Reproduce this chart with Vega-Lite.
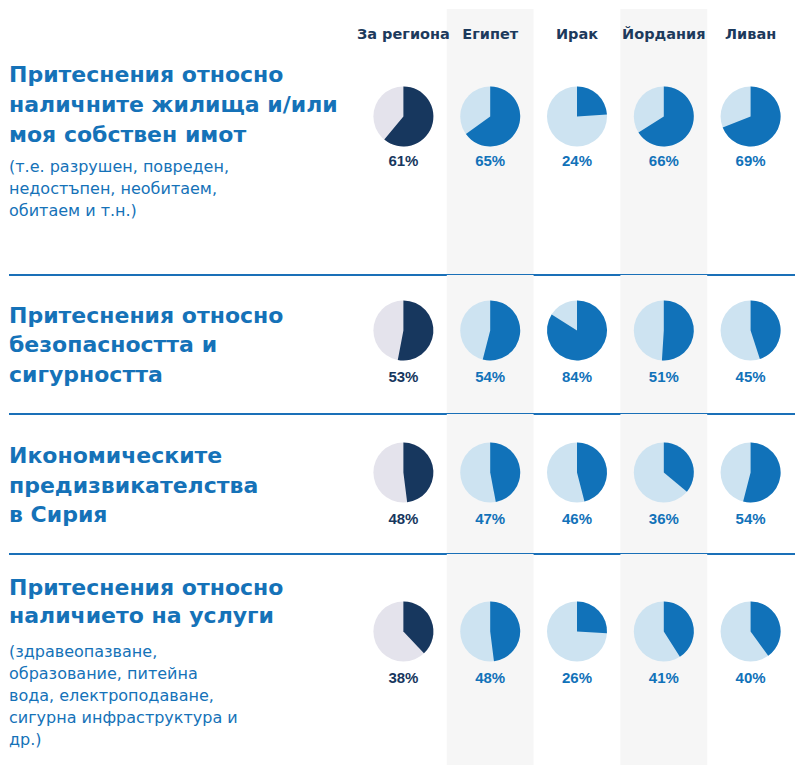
{
  "$schema": "https://vega.github.io/schema/vega-lite/v6.json",
  "padding": {"left": 8, "top": 9, "right": 0, "bottom": 0},
  "spacing": 0,
  "bounds": "flush",
  "background": "white",
  "config": {"view": {"stroke": null}, "concat": {"spacing": 0}},
  "datasets": {
    "pies": [
      {"q": "q1", "col": "За региона", "value": 61},
      {"q": "q1", "col": "Египет", "value": 65},
      {"q": "q1", "col": "Ирак", "value": 24},
      {"q": "q1", "col": "Йордания", "value": 66},
      {"q": "q1", "col": "Ливан", "value": 69},
      {"q": "q2", "col": "За региона", "value": 53},
      {"q": "q2", "col": "Египет", "value": 54},
      {"q": "q2", "col": "Ирак", "value": 84},
      {"q": "q2", "col": "Йордания", "value": 51},
      {"q": "q2", "col": "Ливан", "value": 45},
      {"q": "q3", "col": "За региона", "value": 48},
      {"q": "q3", "col": "Египет", "value": 47},
      {"q": "q3", "col": "Ирак", "value": 46},
      {"q": "q3", "col": "Йордания", "value": 36},
      {"q": "q3", "col": "Ливан", "value": 54},
      {"q": "q4", "col": "За региона", "value": 38},
      {"q": "q4", "col": "Египет", "value": 48},
      {"q": "q4", "col": "Ирак", "value": 26},
      {"q": "q4", "col": "Йордания", "value": 41},
      {"q": "q4", "col": "Ливан", "value": 40}
    ],
    "questions": [
      {"q": "q1", "title": ["Притеснения относно", "наличните жилища и/или", "моя собствен имот"], "sub": ["(т.е. разрушен, повреден,", "недостъпен, необитаем,", "обитаем и т.н.)"]},
      {"q": "q2", "title": ["Притеснения относно", "безопасността и", "сигурността"], "sub": []},
      {"q": "q3", "title": ["Икономическите", "предизвикателства", "в Сирия"], "sub": []},
      {"q": "q4", "title": ["Притеснения относно", "наличието на услуги"], "sub": ["(здравеопазване,", "образование, питейна", "вода, електроподаване,", "сигурна инфраструктура и", "др.)"]}
    ]
  },
  "vconcat": [
    {
      "width": 787, "height": 266,
      "resolve": {"scale": {"x": "independent"}},
      "layer": [
        {
          "data": {"name": "pies"},
          "transform": [{"filter": "datum.q === 'q1'"}, {"calculate": "datum.value + '%'", "as": "label"}],
          "encoding": {"x": {"field": "col", "type": "nominal", "sort": null, "scale": {"type": "band", "domain": ["За региона", "Египет", "Ирак", "Йордания", "Ливан"], "range": [351, 785], "paddingInner": 0, "paddingOuter": 0}, "axis": null}},
          "layer": [
            {"transform": [{"filter": "datum.col === 'Египет' || datum.col === 'Йордания'"}], "mark": {"type": "rect", "fill": "#f6f6f6"}, "encoding": {"y": {"field": "q", "type": "nominal", "scale": {"type": "band", "paddingInner": 0, "paddingOuter": 0}, "axis": null}}},
            {"mark": {"type": "text", "font": "DejaVu Sans", "fontWeight": "bold", "fontSize": 14.5, "color": "#1d3a5c", "baseline": "alphabetic"}, "encoding": {"y": {"field": "q", "type": "nominal", "bandPosition": 0.1128, "axis": null}, "text": {"field": "col"}}},
            {"mark": {"type": "arc", "radius": 30, "theta": 0, "theta2": 6.2832}, "encoding": {"y": {"field": "q", "type": "nominal", "bandPosition": 0.404, "axis": null}, "color": {"condition": {"test": "datum.col === 'За региона'", "value": "#e4e3ec"}, "value": "#cde3f1"}}},
            {"mark": {"type": "arc", "radius": 30}, "encoding": {"y": {"field": "q", "type": "nominal", "bandPosition": 0.404, "axis": null}, "theta": {"field": "value", "type": "quantitative", "stack": null, "scale": {"domain": [0, 100], "range": [0, 6.2832]}}, "theta2": {"datum": 0}, "color": {"condition": {"test": "datum.col === 'За региона'", "value": "#17375e"}, "value": "#1172b9"}}},
            {"mark": {"type": "text", "font": "Liberation Sans", "fontWeight": "bold", "fontSize": 15, "baseline": "middle"}, "encoding": {"y": {"field": "q", "type": "nominal", "bandPosition": 0.573, "axis": null}, "text": {"field": "label"}, "color": {"condition": {"test": "datum.col === 'За региона'", "value": "#17375e"}, "value": "#1172b9"}}}
          ]
        },
        {
          "data": {"name": "questions"},
          "transform": [{"filter": "datum.q === 'q1'"}],
          "layer": [
            {"mark": {"type": "rule", "color": "#1a70b8", "strokeWidth": 2}, "encoding": {"y": {"field": "q", "type": "nominal", "bandPosition": 1, "axis": null}}},
            {"mark": {"type": "text", "align": "left", "baseline": "alphabetic", "font": "DejaVu Sans", "fontWeight": "bold", "fontSize": 22, "lineHeight": 30, "color": "#1572b8"}, "encoding": {"x": {"field": "q", "type": "nominal", "scale": {"type": "band", "paddingInner": 0, "paddingOuter": 0}, "bandPosition": 0, "axis": null}, "y": {"field": "q", "type": "nominal", "bandPosition": 0.2744, "axis": null}, "text": {"field": "title"}}},
            {"mark": {"type": "text", "align": "left", "baseline": "alphabetic", "font": "DejaVu Sans", "fontSize": 16, "lineHeight": 22, "color": "#1572b8"}, "encoding": {"x": {"field": "q", "type": "nominal", "bandPosition": 0, "axis": null}, "y": {"field": "q", "type": "nominal", "bandPosition": 0.6128, "axis": null}, "text": {"field": "sub"}}}
          ]
        }
      ]
    },
    {
      "width": 787, "height": 139,
      "resolve": {"scale": {"x": "independent"}},
      "layer": [
        {
          "data": {"name": "pies"},
          "transform": [{"filter": "datum.q === 'q2'"}, {"calculate": "datum.value + '%'", "as": "label"}],
          "encoding": {"x": {"field": "col", "type": "nominal", "sort": null, "scale": {"type": "band", "domain": ["За региона", "Египет", "Ирак", "Йордания", "Ливан"], "range": [351, 785], "paddingInner": 0, "paddingOuter": 0}, "axis": null}},
          "layer": [
            {"transform": [{"filter": "datum.col === 'Египет' || datum.col === 'Йордания'"}], "mark": {"type": "rect", "fill": "#f6f6f6"}, "encoding": {"y": {"field": "q", "type": "nominal", "scale": {"type": "band", "paddingInner": 0, "paddingOuter": 0}, "axis": null}}},
            {"mark": {"type": "arc", "radius": 30, "theta": 0, "theta2": 6.2832}, "encoding": {"y": {"field": "q", "type": "nominal", "bandPosition": 0.399, "axis": null}, "color": {"condition": {"test": "datum.col === 'За региона'", "value": "#e4e3ec"}, "value": "#cde3f1"}}},
            {"mark": {"type": "arc", "radius": 30}, "encoding": {"y": {"field": "q", "type": "nominal", "bandPosition": 0.399, "axis": null}, "theta": {"field": "value", "type": "quantitative", "stack": null, "scale": {"domain": [0, 100], "range": [0, 6.2832]}}, "theta2": {"datum": 0}, "color": {"condition": {"test": "datum.col === 'За региона'", "value": "#17375e"}, "value": "#1172b9"}}},
            {"mark": {"type": "text", "font": "Liberation Sans", "fontWeight": "bold", "fontSize": 15, "baseline": "middle"}, "encoding": {"y": {"field": "q", "type": "nominal", "bandPosition": 0.7338, "axis": null}, "text": {"field": "label"}, "color": {"condition": {"test": "datum.col === 'За региона'", "value": "#17375e"}, "value": "#1172b9"}}}
          ]
        },
        {
          "data": {"name": "questions"},
          "transform": [{"filter": "datum.q === 'q2'"}],
          "layer": [
            {"mark": {"type": "rule", "color": "#1a70b8", "strokeWidth": 2}, "encoding": {"y": {"field": "q", "type": "nominal", "bandPosition": 1, "axis": null}}},
            {"mark": {"type": "text", "align": "left", "baseline": "alphabetic", "font": "DejaVu Sans", "fontWeight": "bold", "fontSize": 22, "lineHeight": 29.5, "color": "#1572b8"}, "encoding": {"x": {"field": "q", "type": "nominal", "scale": {"type": "band", "paddingInner": 0, "paddingOuter": 0}, "bandPosition": 0, "axis": null}, "y": {"field": "q", "type": "nominal", "bandPosition": 0.3453, "axis": null}, "text": {"field": "title"}}}
          ]
        }
      ]
    },
    {
      "width": 787, "height": 140,
      "resolve": {"scale": {"x": "independent"}},
      "layer": [
        {
          "data": {"name": "pies"},
          "transform": [{"filter": "datum.q === 'q3'"}, {"calculate": "datum.value + '%'", "as": "label"}],
          "encoding": {"x": {"field": "col", "type": "nominal", "sort": null, "scale": {"type": "band", "domain": ["За региона", "Египет", "Ирак", "Йордания", "Ливан"], "range": [351, 785], "paddingInner": 0, "paddingOuter": 0}, "axis": null}},
          "layer": [
            {"transform": [{"filter": "datum.col === 'Египет' || datum.col === 'Йордания'"}], "mark": {"type": "rect", "fill": "#f6f6f6"}, "encoding": {"y": {"field": "q", "type": "nominal", "scale": {"type": "band", "paddingInner": 0, "paddingOuter": 0}, "axis": null}}},
            {"mark": {"type": "arc", "radius": 30, "theta": 0, "theta2": 6.2832}, "encoding": {"y": {"field": "q", "type": "nominal", "bandPosition": 0.418, "axis": null}, "color": {"condition": {"test": "datum.col === 'За региона'", "value": "#e4e3ec"}, "value": "#cde3f1"}}},
            {"mark": {"type": "arc", "radius": 30}, "encoding": {"y": {"field": "q", "type": "nominal", "bandPosition": 0.418, "axis": null}, "theta": {"field": "value", "type": "quantitative", "stack": null, "scale": {"domain": [0, 100], "range": [0, 6.2832]}}, "theta2": {"datum": 0}, "color": {"condition": {"test": "datum.col === 'За региона'", "value": "#17375e"}, "value": "#1172b9"}}},
            {"mark": {"type": "text", "font": "Liberation Sans", "fontWeight": "bold", "fontSize": 15, "baseline": "middle"}, "encoding": {"y": {"field": "q", "type": "nominal", "bandPosition": 0.75, "axis": null}, "text": {"field": "label"}, "color": {"condition": {"test": "datum.col === 'За региона'", "value": "#17375e"}, "value": "#1172b9"}}}
          ]
        },
        {
          "data": {"name": "questions"},
          "transform": [{"filter": "datum.q === 'q3'"}],
          "layer": [
            {"mark": {"type": "rule", "color": "#1a70b8", "strokeWidth": 2}, "encoding": {"y": {"field": "q", "type": "nominal", "bandPosition": 1, "axis": null}}},
            {"mark": {"type": "text", "align": "left", "baseline": "alphabetic", "font": "DejaVu Sans", "fontWeight": "bold", "fontSize": 22, "lineHeight": 29.5, "color": "#1572b8"}, "encoding": {"x": {"field": "q", "type": "nominal", "scale": {"type": "band", "paddingInner": 0, "paddingOuter": 0}, "bandPosition": 0, "axis": null}, "y": {"field": "q", "type": "nominal", "bandPosition": 0.35, "axis": null}, "text": {"field": "title"}}}
          ]
        }
      ]
    },
    {
      "width": 787, "height": 211,
      "resolve": {"scale": {"x": "independent"}},
      "layer": [
        {
          "data": {"name": "pies"},
          "transform": [{"filter": "datum.q === 'q4'"}, {"calculate": "datum.value + '%'", "as": "label"}],
          "encoding": {"x": {"field": "col", "type": "nominal", "sort": null, "scale": {"type": "band", "domain": ["За региона", "Египет", "Ирак", "Йордания", "Ливан"], "range": [351, 785], "paddingInner": 0, "paddingOuter": 0}, "axis": null}},
          "layer": [
            {"transform": [{"filter": "datum.col === 'Египет' || datum.col === 'Йордания'"}], "mark": {"type": "rect", "fill": "#f6f6f6"}, "encoding": {"y": {"field": "q", "type": "nominal", "scale": {"type": "band", "paddingInner": 0, "paddingOuter": 0}, "axis": null}}},
            {"mark": {"type": "arc", "radius": 30, "theta": 0, "theta2": 6.2832}, "encoding": {"y": {"field": "q", "type": "nominal", "bandPosition": 0.367, "axis": null}, "color": {"condition": {"test": "datum.col === 'За региона'", "value": "#e4e3ec"}, "value": "#cde3f1"}}},
            {"mark": {"type": "arc", "radius": 30}, "encoding": {"y": {"field": "q", "type": "nominal", "bandPosition": 0.367, "axis": null}, "theta": {"field": "value", "type": "quantitative", "stack": null, "scale": {"domain": [0, 100], "range": [0, 6.2832]}}, "theta2": {"datum": 0}, "color": {"condition": {"test": "datum.col === 'За региона'", "value": "#17375e"}, "value": "#1172b9"}}},
            {"mark": {"type": "text", "font": "Liberation Sans", "fontWeight": "bold", "fontSize": 15, "baseline": "middle"}, "encoding": {"y": {"field": "q", "type": "nominal", "bandPosition": 0.5877, "axis": null}, "text": {"field": "label"}, "color": {"condition": {"test": "datum.col === 'За региона'", "value": "#17375e"}, "value": "#1172b9"}}}
          ]
        },
        {
          "data": {"name": "questions"},
          "transform": [{"filter": "datum.q === 'q4'"}],
          "layer": [
            {"mark": {"type": "text", "align": "left", "baseline": "alphabetic", "font": "DejaVu Sans", "fontWeight": "bold", "fontSize": 22, "lineHeight": 28.5, "color": "#1572b8"}, "encoding": {"x": {"field": "q", "type": "nominal", "scale": {"type": "band", "paddingInner": 0, "paddingOuter": 0}, "bandPosition": 0, "axis": null}, "y": {"field": "q", "type": "nominal", "bandPosition": 0.1943, "axis": null}, "text": {"field": "title"}}},
            {"mark": {"type": "text", "align": "left", "baseline": "alphabetic", "font": "DejaVu Sans", "fontSize": 16, "lineHeight": 22, "color": "#1572b8"}, "encoding": {"x": {"field": "q", "type": "nominal", "bandPosition": 0, "axis": null}, "y": {"field": "q", "type": "nominal", "bandPosition": 0.488, "axis": null}, "text": {"field": "sub"}}}
          ]
        }
      ]
    }
  ]
}
